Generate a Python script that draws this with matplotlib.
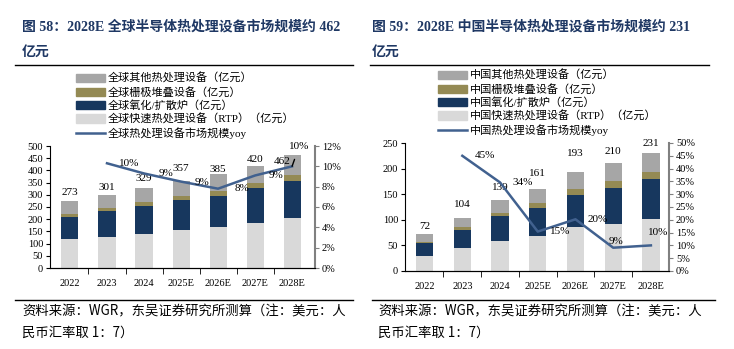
import matplotlib.pyplot as plt
from matplotlib.patches import Patch
from matplotlib.lines import Line2D

plt.rcParams['font.family'] = ['Liberation Serif', 'Noto Sans CJK SC']

# ---------------- data ----------------
years = ["2022", "2023", "2024", "2025E", "2026E", "2027E", "2028E"]

# global (亿元)
g_rtp = [118, 129, 140, 154, 166, 183, 203]
g_oxide = [92, 103, 115, 123, 131, 143, 155]
g_batch = [12, 15, 16, 19, 20, 23, 25]
g_total = [273, 301, 329, 357, 385, 420, 462]
g_yoy = [None, 10.3, 9.3, 8.5, 7.8, 9.1, 10.0]
g_yoy_labels = ["", "10%", "9%", "9%", "8%", "9%", "10%"]

# china (亿元)
c_rtp = [29, 44, 59, 69, 85, 92, 102]
c_oxide = [25, 36, 49, 55, 64, 71, 78]
c_batch = [3, 5, 6, 9, 12, 12, 13]
c_total = [72, 104, 139, 161, 193, 210, 231]
c_yoy = [None, 45.0, 34.6, 15.4, 20.2, 9.1, 10.0]
c_yoy_labels = ["", "45%", "34%", "15%", "20%", "9%", "10%"]

C_OTHER = "#A6A6A6"
C_BATCH = "#948A54"
C_OXIDE = "#17375E"
C_RTP = "#D9D9D9"
C_LINE = "#41618F"
C_TITLE = "#1F3864"

W, H = 734, 349
fig = plt.figure(figsize=(W / 100, H / 100), dpi=100)


def fx(px):
    return px / W


def fy(py):
    return 1 - py / H


def hline(x0, x1, y, lw=1.0):
    fig.add_artist(Line2D([fx(x0), fx(x1)], [fy(y), fy(y)], color="black", lw=lw,
                          transform=fig.transFigure))


def panel(rect, rtp, oxide, batch, total, yoy, yoy_labels, ymax, ystep,
          rmax, rstep, xlim, total_pos, label_pos):
    ax = fig.add_axes(rect)
    x = list(range(len(years)))
    other = [t - a - b - c for t, a, b, c in zip(total, rtp, oxide, batch)]
    b1 = [a + b for a, b in zip(rtp, oxide)]
    b2 = [a + b for a, b in zip(b1, batch)]
    wd = 0.46
    ax.bar(x, rtp, wd, color=C_RTP)
    ax.bar(x, oxide, wd, bottom=rtp, color=C_OXIDE)
    ax.bar(x, batch, wd, bottom=b1, color=C_BATCH)
    ax.bar(x, other, wd, bottom=b2, color=C_OTHER)
    for i, t in enumerate(total):
        dx, dy = total_pos[i]
        ax.annotate(str(t), (i, t), xytext=(dx * 0.72, dy * 0.72), textcoords="offset points",
                    ha="center", va="center", fontsize=8)
    ax.set_ylim(0, ymax)
    ax.set_yticks(range(0, ymax + 1, ystep))
    ax.set_xlim(*xlim)
    ax.set_xticks(x)
    ax.set_xticklabels(years)
    ax.set_xticks([i + 0.5 for i in x[:-1]], minor=True)
    ax.tick_params(axis="x", which="major", length=0, labelsize=7.5, pad=8)
    ax.tick_params(axis="x", which="minor", length=4, direction="out")
    ax.tick_params(axis="y", length=3, labelsize=7.5, pad=2)
    ax.spines["top"].set_visible(False)
    ax.spines["right"].set_visible(False)

    ax2 = ax.twinx()
    xs = [i for i, v in zip(x, yoy) if v is not None]
    ys = [v for v in yoy if v is not None]
    ax2.plot(xs, ys, color=C_LINE, lw=1.8)
    for i, v in zip(xs, ys):
        dx, dy = label_pos[i]
        lab = yoy_labels[i]
        if i == len(years) - 1 and label_pos.get("lead"):
            ax2.annotate(lab, (i, v), xytext=(dx, dy), textcoords="offset points",
                         ha="center", va="center", fontsize=8,
                         arrowprops=dict(arrowstyle="-", color="black", lw=1.0,
                                         shrinkA=4, shrinkB=0))
        else:
            ax2.annotate(lab, (i, v), xytext=(dx, dy), textcoords="offset points",
                         ha="center", va="center", fontsize=8)
    ax2.set_ylim(0, rmax)
    ax2.set_yticks(range(0, rmax + 1, rstep))
    ax2.set_yticklabels([f"{v}%" for v in range(0, rmax + 1, rstep)])
    ax2.tick_params(axis="y", length=3, labelsize=7.5, pad=2, color="#808080")
    ax2.spines["right"].set_color("#808080")
    ax2.spines["right"].set_linewidth(1.5)
    ax2.spines["top"].set_visible(False)
    ax2.spines["left"].set_visible(False)
    return ax


leg_kw = dict(loc="upper left", frameon=False, fontsize=8, handlelength=2.6,
              handleheight=0.75, labelspacing=0.22, handletextpad=0.25,
              borderpad=0, borderaxespad=0)

# ---------------- left: global ----------------
fig.text(fx(22), fy(27), "图 58：2028E 全球半导体热处理设备市场规模约 462",
         fontsize=10, fontweight="bold", color=C_TITLE, va="center")
fig.text(fx(22), fy(52), "亿元", fontsize=10, fontweight="bold", color=C_TITLE, va="center")
hline(15, 353, 65)

g_tot_pos = [(0, 9), (0, 7), (0, 9), (0, 12), (0, 5), (0, 6), (-10, -6)]
g_pos = {1: (16, 0), 2: (16, 0), 3: (15, -1), 4: (17, 0), 5: (15, 0), 6: (5, 14), "lead": True}
panel([fx(50), fy(268), fx(315) - fx(50), fy(146) - fy(268)],
      g_rtp, g_oxide, g_batch, g_total, g_yoy, g_yoy_labels,
      500, 50, 12, 2, (-0.54, 6.62), g_tot_pos, g_pos)

handles_g = [Patch(color=C_OTHER), Patch(color=C_BATCH), Patch(color=C_OXIDE),
             Patch(color=C_RTP), Line2D([], [], color=C_LINE, lw=1.8)]
labels_g = ["全球其他热处理设备（亿元）", "全球栅极堆叠设备（亿元）", "全球氧化/扩散炉（亿元）",
            "全球快速热处理设备（RTP）（亿元）", "全球热处理设备市场规模yoy"]
fig.legend(handles_g, labels_g, bbox_to_anchor=(fx(76), fy(73)), **leg_kw)

# ---------------- right: china ----------------
fig.text(fx(372), fy(27), "图 59：2028E 中国半导体热处理设备市场规模约 231",
         fontsize=10, fontweight="bold", color=C_TITLE, va="center")
fig.text(fx(372), fy(52), "亿元", fontsize=10, fontweight="bold", color=C_TITLE, va="center")
hline(370, 709, 65)

c_tot_pos = [(0, 8), (0, 13), (0, 12), (0, 15), (0, 19), (0, 12), (0, 9)]
c_pos = {1: (16, 0), 2: (16, 0), 3: (16, 0), 4: (16, 0), 5: (2, 4.5), 6: (5, 9)}
panel([fx(405), fy(271), fx(669) - fx(405), fy(143) - fy(271)],
      c_rtp, c_oxide, c_batch, c_total, c_yoy, c_yoy_labels,
      250, 50, 50, 5, (-0.52, 6.48), c_tot_pos, c_pos)

handles_c = [Patch(color=C_OTHER), Patch(color=C_BATCH), Patch(color=C_OXIDE),
             Patch(color=C_RTP), Line2D([], [], color=C_LINE, lw=1.8)]
labels_c = ["中国其他热处理设备（亿元）", "中国栅极堆叠设备（亿元）", "中国氧化/扩散炉（亿元）",
            "中国快速热处理设备（RTP）（亿元）", "中国热处理设备市场规模yoy"]
fig.legend(handles_c, labels_c, bbox_to_anchor=(fx(438), fy(70)), **leg_kw)

# ---------------- footers ----------------
hline(15, 353, 300)
hline(372, 715, 300)
src1 = "资料来源：WGR，东吴证券研究所测算（注：美元：人"
src2 = "民币汇率取 1：7）"
for x0 in (22, 378):
    fig.text(fx(x0), fy(311), src1, fontsize=9.6, va="center", family=["Noto Sans CJK SC"])
    fig.text(fx(x0), fy(333), src2, fontsize=9.6, va="center", family=["Noto Sans CJK SC"])

fig.savefig("out.png", dpi=100)
